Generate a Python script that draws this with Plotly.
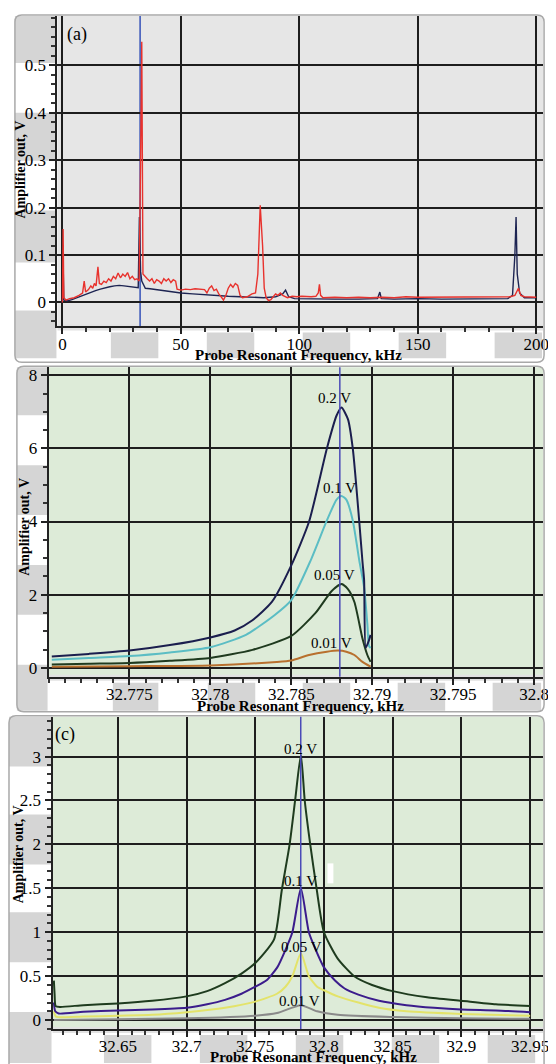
import plotly.graph_objects as go

# ---------------- data : panel (a) spectrum ----------------
a_red_freq = [0, 0.3, 0.6, 1.5, 3, 5, 7, 8.5, 9.2, 9.8, 11, 12, 12.8, 13.5, 14.2, 15, 15.6, 16.5,
              17.5, 18.5, 19.5, 20.5, 21.5, 22.5, 23.5, 24.5, 25.5, 26.5, 27.5, 28.5, 29.5, 30.5,
              31.5, 32.4, 33.0, 33.5, 34.0, 34.8, 35.8, 36.8, 37.8, 38.8, 39.8, 40.8, 41.8, 42.8,
              43.8, 44.8, 45.8, 46.8, 47.8, 48.4, 50, 52, 54, 56, 58, 60, 61, 62, 63, 64, 65, 66,
              67, 68, 69, 70, 71, 72, 73, 74, 75, 76, 78, 80, 81.5, 82.5, 83.5, 84.5, 85.2, 86, 87,
              88, 89, 90, 91, 92, 93, 94, 95, 97, 99, 101, 103, 105, 107, 108, 108.5, 109, 110, 115,
              120, 125, 130, 135, 140, 145, 150, 155, 160, 165, 170, 175, 180, 185, 189, 191, 192.5,
              193.5, 195, 200]
a_red_amp = [0.0, 0.155, 0.01, 0.005, 0.008, 0.01, 0.015, 0.02, 0.045, 0.022, 0.027, 0.035, 0.03,
             0.04, 0.035, 0.075, 0.04, 0.038, 0.045, 0.042, 0.05, 0.045, 0.055, 0.05, 0.062, 0.052,
             0.06, 0.055, 0.063, 0.05, 0.055, 0.048, 0.05, 0.045, 0.3, 0.55, 0.06, 0.055, 0.05,
             0.045, 0.05, 0.04, 0.048, 0.045, 0.04, 0.05, 0.045, 0.05, 0.042, 0.048, 0.045, 0.028,
             0.026, 0.028, 0.027, 0.029, 0.028, 0.027, 0.02, 0.03, 0.035, 0.025, 0.028, 0.018,
             0.012, 0.005, 0.015, 0.03, 0.038, 0.032, 0.04, 0.036, 0.015, 0.01, 0.012, 0.018, 0.02,
             0.06, 0.205, 0.12, 0.03, 0.01, 0.004, 0.006, 0.012, 0.018, 0.015, 0.02, 0.015, 0.012,
             0.01, 0.013, 0.012, 0.013, 0.012, 0.012, 0.013, 0.02, 0.038, 0.015, 0.01, 0.011, 0.01,
             0.011, 0.01, 0.011, 0.01, 0.012, 0.011, 0.011, 0.012, 0.011, 0.011, 0.012, 0.011,
             0.011, 0.012, 0.015, 0.03, 0.015, 0.012, 0.011]
a_navy_freq = [0, 0.3, 0.6, 2, 4, 6, 8, 10, 12, 14, 16, 18, 20, 22, 24, 26, 28, 30, 32, 32.5, 33,
               33.5, 35, 37, 40, 43, 46, 50, 55, 60, 65, 70, 75, 80, 85, 90, 93, 94.2, 95.5, 98,
               105, 115, 125, 133, 134, 134.6, 140, 150, 160, 170, 180, 188, 190, 191, 191.5, 192,
               193, 195, 200]
a_navy_amp = [0.0, 0.085, 0.005, 0.003, 0.006, 0.01, 0.014, 0.018, 0.022, 0.025, 0.028, 0.031,
              0.033, 0.035, 0.036, 0.035, 0.034, 0.032, 0.031, 0.18, 0.065, 0.045, 0.03, 0.029,
              0.027, 0.025, 0.022, 0.02, 0.018, 0.016, 0.014, 0.013, 0.012, 0.011, 0.01, 0.012,
              0.018, 0.026, 0.012, 0.008, 0.007, 0.007, 0.007, 0.008, 0.022, 0.008, 0.007, 0.008,
              0.007, 0.007, 0.007, 0.008, 0.015, 0.1, 0.18, 0.06, 0.02, 0.01, 0.01]
a_marker = 32.8
a_xticks = [0, 50, 100, 150, 200]
a_xticklabels = ["0", "50", "100", "150", "200"]
a_yticks = [0, 0.1, 0.2, 0.3, 0.4, 0.5]
a_yticklabels = ["0", "0.1", "0.2", "0.3", "0.4", "0.5"]

# ---------------- data : panel (b) ----------------
b_f_02 = [32.7702, 32.7725, 32.775, 32.7775, 32.78, 32.7815, 32.7826, 32.7838, 32.785, 32.7861,
          32.7872, 32.7878, 32.7881, 32.7885, 32.7888, 32.7892, 32.7894, 32.7895, 32.7896,
          32.7898, 32.7899]
b_v_02 = [0.31, 0.38, 0.47, 0.62, 0.83, 1.02, 1.3, 1.8, 2.8, 4.0, 6.0, 6.9, 7.12, 6.8, 6.0, 4.0,
          2.9, 2.4, 0.55, 0.75, 0.9]
b_f_01 = [32.7702, 32.7725, 32.775, 32.7775, 32.78, 32.7822, 32.784, 32.785, 32.7862, 32.7872,
          32.7878, 32.7881, 32.7884, 32.7888, 32.7892, 32.7895, 32.7897, 32.7898, 32.7899]
b_v_01 = [0.22, 0.27, 0.32, 0.42, 0.56, 0.9, 1.45, 1.85, 2.94, 4.03, 4.6, 4.7, 4.6, 4.03, 2.94,
          2.2, 1.2, 0.6, 0.54]
b_f_005 = [32.7702, 32.7725, 32.775, 32.7775, 32.78, 32.7826, 32.785, 32.7865, 32.7875, 32.7881,
           32.7885, 32.7889, 32.7894, 32.7897, 32.7899]
b_v_005 = [0.09, 0.11, 0.13, 0.19, 0.27, 0.49, 0.87, 1.5, 2.1, 2.29, 2.15, 1.8, 0.8, 0.35, 0.16]
b_f_001 = [32.7702, 32.775, 32.78, 32.7841, 32.785, 32.7861, 32.7872, 32.7879, 32.7884, 32.7889,
           32.7894, 32.7899]
b_v_001 = [0.03, 0.045, 0.065, 0.16, 0.2, 0.35, 0.44, 0.47, 0.44, 0.35, 0.16, 0.03]
b_marker = 32.788
b_xticks = [32.775, 32.78, 32.785, 32.79, 32.795, 32.8]
b_xticklabels = ["32.775", "32.78", "32.785", "32.79", "32.795", "32.8"]
b_yticks = [0, 2, 4, 6, 8]
b_yticklabels = ["0", "2", "4", "6", "8"]
b_labels = ["0.2 V", "0.1 V", "0.05 V", "0.01 V"]
b_label_f = [32.7877, 32.7880, 32.7877, 32.7875]
b_label_v = [7.37, 4.93, 2.53, 0.68]

# ---------------- data : panel (c) ----------------
c_f_02 = [32.6035, 32.604, 32.6048, 32.608, 32.625, 32.65, 32.675, 32.7, 32.715, 32.728, 32.74,
          32.75, 32.7637, 32.7694, 32.775, 32.779, 32.7832, 32.786, 32.79, 32.7946, 32.8, 32.81,
          32.822, 32.835, 32.85, 32.875, 32.9, 32.925, 32.95]
c_v_02 = [0.45, 0.3, 0.16, 0.15, 0.17, 0.19, 0.22, 0.27, 0.33, 0.42, 0.53, 0.65, 0.92, 1.49, 2.0,
          2.5, 3.02, 2.5, 2.0, 1.5, 1.0, 0.7, 0.5, 0.4, 0.33, 0.26, 0.22, 0.18, 0.16]
c_f_01 = [32.6035, 32.6045, 32.607, 32.625, 32.65, 32.675, 32.7, 32.715, 32.728, 32.74, 32.75,
          32.758, 32.766, 32.772, 32.777, 32.7832, 32.789, 32.794, 32.8, 32.808, 32.815, 32.825,
          32.84, 32.86, 32.88, 32.9, 32.925, 32.95]
c_v_01 = [0.2, 0.1, 0.075, 0.095, 0.11, 0.12, 0.14, 0.18, 0.23, 0.3, 0.38, 0.45, 0.6, 0.8, 1.0,
          1.5, 1.0, 0.8, 0.6, 0.45, 0.36, 0.29, 0.22, 0.17, 0.14, 0.12, 0.11, 0.09]
c_f_005 = [32.6035, 32.605, 32.625, 32.65, 32.675, 32.7, 32.728, 32.75, 32.7658, 32.772, 32.777,
           32.7832, 32.789, 32.795, 32.8, 32.81, 32.825, 32.84, 32.86, 32.9, 32.95]
c_v_005 = [0.1, 0.04, 0.04, 0.05, 0.06, 0.09, 0.14, 0.21, 0.3, 0.38, 0.5, 0.76, 0.5, 0.38, 0.34,
           0.27, 0.2, 0.14, 0.1, 0.07, 0.05]
c_f_001 = [32.6035, 32.65, 32.7, 32.75, 32.7658, 32.7832, 32.795, 32.81, 32.85, 32.9, 32.95]
c_v_001 = [0.0, 0.01, 0.02, 0.05, 0.08, 0.17, 0.1, 0.06, 0.035, 0.02, 0.015]
c_marker = 32.7831
c_xticks = [32.65, 32.7, 32.75, 32.8, 32.85, 32.9, 32.95]
c_xticklabels = ["32.65", "32.7", "32.75", "32.8", "32.85", "32.9", "32.95"]
c_yticks = [0, 0.5, 1, 1.5, 2, 2.5, 3]
c_yticklabels = ["0", "0.5", "1", "1.5", "2", "2.5", "3"]
c_labels = ["0.2 V", "0.1 V", "0.05 V", "0.01 V"]
c_label_f = [32.7832, 32.7832, 32.7835, 32.7825]
c_label_v = [3.09, 1.58, 0.83, 0.22]

# ---------------- layout helpers ----------------
# the page body has an 8 px margin, so the figure is drawn 8 px smaller and all
# page-pixel positions below are shifted by that offset
OFF = 8
W, H = 556 - OFF, 1064 - OFF
SERIF = "Liberation Serif"


def fx(p):
    return (p - OFF) / W


def fy(p):
    return 1 - (p - OFF) / H


fig = go.Figure()

panels = [
    dict(n="", xd=(58, 549), yd=(15, 326), xr=[-2.09, 202.9], yr=[-0.0505, 0.6042],
         xt=(a_xticks, a_xticklabels), yt=(a_yticks, a_yticklabels), xminor=10, yminor=0.02,
         x0minor=0, y0minor=0, bg="#e6e6e6"),
    dict(n="2", xd=(49, 549), yd=(367, 677), xr=[32.77, 32.80056], yr=[-0.245, 8.218],
         xt=(b_xticks, b_xticklabels), yt=(b_yticks, b_yticklabels), xminor=0.001, yminor=0.5,
         x0minor=32.77, y0minor=0, bg="#ddebd8"),
    dict(n="3", xd=(53, 549), yd=(717, 1030), xr=[32.6025, 32.9594], yr=[-0.102, 3.4545],
         xt=(c_xticks, c_xticklabels), yt=(c_yticks, c_yticklabels), xminor=0.01, yminor=0.1,
         x0minor=32.6, y0minor=0, bg="#ddebd8"),
]

axis_common = dict(showline=True, linecolor="#222222", linewidth=2, ticks="outside", ticklen=6,
                   tickwidth=1.5, tickcolor="#222222", showgrid=True, gridcolor="#1e1e1e",
                   gridwidth=1.6, zeroline=False, tickfont=dict(family=SERIF, size=17, color="black"),
                   tickmode="array")

shapes = []
for p in panels:
    n = p["n"]
    fig.update_layout(**{
        "xaxis" + n: dict(axis_common, domain=[fx(p["xd"][0]), fx(p["xd"][1])], range=p["xr"],
                          tickvals=p["xt"][0], ticktext=p["xt"][1], anchor="y" + n,
                          ticklabelstandoff=-5,
                          minor=dict(tickmode="linear", tick0=p["x0minor"], dtick=p["xminor"],
                                     ticks="outside", ticklen=4, tickcolor="#333333",
                                     showgrid=False)),
        "yaxis" + n: dict(axis_common, domain=[fy(p["yd"][1]), fy(p["yd"][0])], range=p["yr"],
                          tickvals=p["yt"][0], ticktext=p["yt"][1], anchor="x" + n,
                          minor=dict(tickmode="linear", tick0=p["y0minor"], dtick=p["yminor"],
                                     ticks="outside", ticklen=4, tickcolor="#333333",
                                     showgrid=False)),
    })
    shapes.append(dict(type="rect", xref="x" + n + " domain", yref="y" + n + " domain",
                       x0=0, x1=1, y0=0, y1=1, fillcolor=p["bg"], line=dict(width=0),
                       layer="below"))

# checkerboard blocks (screenshot background), in page pixels
GRAY = "#d5d5d5"
blocks = []
for (xa, xb), ys in [((15, 57), [(15, 62), (112, 160), (210, 262), (310, 358)]),
                     ((17, 48), [(367, 415), (465, 515), (565, 615), (665, 711)]),
                     ((9, 52), [(717, 767), (815, 865), (913, 963), (1013, 1064)])]:
    for ya, yb in ys:
        blocks.append((xa, ya, xb, yb))
for (ya, yb), xs in [((332, 358), [(112, 160), (209, 257), (306, 354), (403, 451), (500, 548)]),
                     ((683, 711), [(114, 160), (210, 258), (306, 354), (402, 450), (498, 547)]),
                     ((1036, 1064), [(105, 153), (202, 250), (299, 347), (396, 444), (493, 541)])]:
    for xa, xb in xs:
        blocks.append((xa, ya, xb, yb))
for xa, ya, xb, yb in blocks:
    shapes.append(dict(type="rect", xref="paper", yref="paper", x0=fx(xa), x1=fx(xb),
                       y0=fy(yb), y1=fy(ya), fillcolor=GRAY, line=dict(width=0), layer="below"))

for xa, xb, ya, yb in [(58, 549, 324, 330), (49, 549, 675, 681), (53, 549, 1028, 1034)]:
    shapes.append(dict(type="rect", xref="paper", yref="paper", x0=fx(xa), x1=fx(xb),
                       y0=fy(yb), y1=fy(ya), fillcolor="#e2e2e2", line=dict(width=0),
                       layer="below"))


def rounded(x0, y0, x1, y1, r=7):
    rx, ry = r / W, r / H
    X0, X1, Y0, Y1 = fx(x0), fx(x1), fy(y0), fy(y1)
    return (f"M {X0 + rx} {Y0} L {X1 - rx} {Y0} Q {X1} {Y0} {X1} {Y0 - ry} "
            f"L {X1} {Y1 + ry} Q {X1} {Y1} {X1 - rx} {Y1} L {X0 + rx} {Y1} "
            f"Q {X0} {Y1} {X0} {Y1 + ry} L {X0} {Y0 - ry} Q {X0} {Y0} {X0 + rx} {Y0} Z")


for box in [(15, 14, 550, 362), (17, 366, 550, 712), (9, 716, 550, 1080)]:
    shapes.append(dict(type="path", xref="paper", yref="paper", path=rounded(*box),
                       line=dict(color="#a9a9a9", width=1.5), layer="above"))

shapes.append(dict(type="rect", xref="paper", yref="paper", x0=fx(331), x1=fx(337),
                   y0=fy(884), y1=fy(864), fillcolor="white", line=dict(width=0), layer="above"))

# marker lines
shapes.append(dict(type="line", xref="x", yref="y domain", x0=a_marker, x1=a_marker, y0=0, y1=1,
                   line=dict(color="#3552b8", width=1.5), layer="below"))
shapes.append(dict(type="line", xref="x2", yref="y2 domain", x0=b_marker, x1=b_marker, y0=0, y1=1,
                   line=dict(color="#4a4ab8", width=1.5), layer="above"))
shapes.append(dict(type="line", xref="x3", yref="y3 domain", x0=c_marker, x1=c_marker, y0=0, y1=1,
                   line=dict(color="#4a4ab8", width=1.5), layer="above"))

# ---------------- traces ----------------
fig.add_trace(go.Scatter(x=a_navy_freq, y=a_navy_amp, mode="lines", xaxis="x", yaxis="y",
                         line=dict(color="#1d2452", width=1.4)))
fig.add_trace(go.Scatter(x=a_red_freq, y=a_red_amp, mode="lines", xaxis="x", yaxis="y",
                         line=dict(color="#e8322d", width=1.4)))

for f, v, col in [(b_f_001, b_v_001, "#b8702e"), (b_f_005, b_v_005, "#1f3a1f"),
                  (b_f_01, b_v_01, "#5bbdc4"), (b_f_02, b_v_02, "#1b1e4e")]:
    fig.add_trace(go.Scatter(x=f, y=v, mode="lines", xaxis="x2", yaxis="y2",
                             line=dict(color=col, width=2, shape="spline", smoothing=0.6)))

for f, v, col in [(c_f_001, c_v_001, "#8a8a8a"), (c_f_005, c_v_005, "#e3e36a"),
                  (c_f_01, c_v_01, "#3b1c8c"), (c_f_02, c_v_02, "#1e3b1e")]:
    fig.add_trace(go.Scatter(x=f, y=v, mode="lines", xaxis="x3", yaxis="y3",
                             line=dict(color=col, width=2, shape="spline", smoothing=0.6)))

# ---------------- annotations ----------------
ann = []
for t, f, v in zip(b_labels, b_label_f, b_label_v):
    ann.append(dict(text=t, x=f, y=v, xref="x2", yref="y2", showarrow=False,
                    font=dict(family=SERIF, size=15, color="black")))
for t, f, v in zip(c_labels, c_label_f, c_label_v):
    ann.append(dict(text=t, x=f, y=v, xref="x3", yref="y3", showarrow=False,
                    font=dict(family=SERIF, size=15, color="black")))

xtitle = "<b>Probe Resonant Frequency, kHz</b>"
ytitle = "<b>Amplifier out, V</b>"
for px_, py_ in [(302, 355), (304, 706), (317, 1058)]:
    ann.append(dict(text=xtitle, x=fx(px_), y=fy(py_), xref="paper", yref="paper",
                    showarrow=False, xanchor="center", yanchor="middle",
                    font=dict(family=SERIF, size=15, color="black")))
for px_, py_ in [(21, 169), (24, 527), (19, 855)]:
    ann.append(dict(text=ytitle, x=fx(px_), y=fy(py_), xref="paper", yref="paper",
                    showarrow=False, xanchor="center", yanchor="middle", textangle=-90,
                    font=dict(family=SERIF, size=14, color="black")))
for t, px_, py_ in [("(a)", 78, 34), ("(c)", 66, 735)]:
    ann.append(dict(text=t, x=fx(px_), y=fy(py_), xref="paper", yref="paper", showarrow=False,
                    xanchor="center", yanchor="middle",
                    font=dict(family=SERIF, size=18, color="black")))

fig.update_layout(width=W, height=H, margin=dict(l=0, r=0, t=0, b=0), paper_bgcolor="white",
                  plot_bgcolor="rgba(0,0,0,0)", showlegend=False, shapes=shapes, annotations=ann)

fig.write_html("out.html")
